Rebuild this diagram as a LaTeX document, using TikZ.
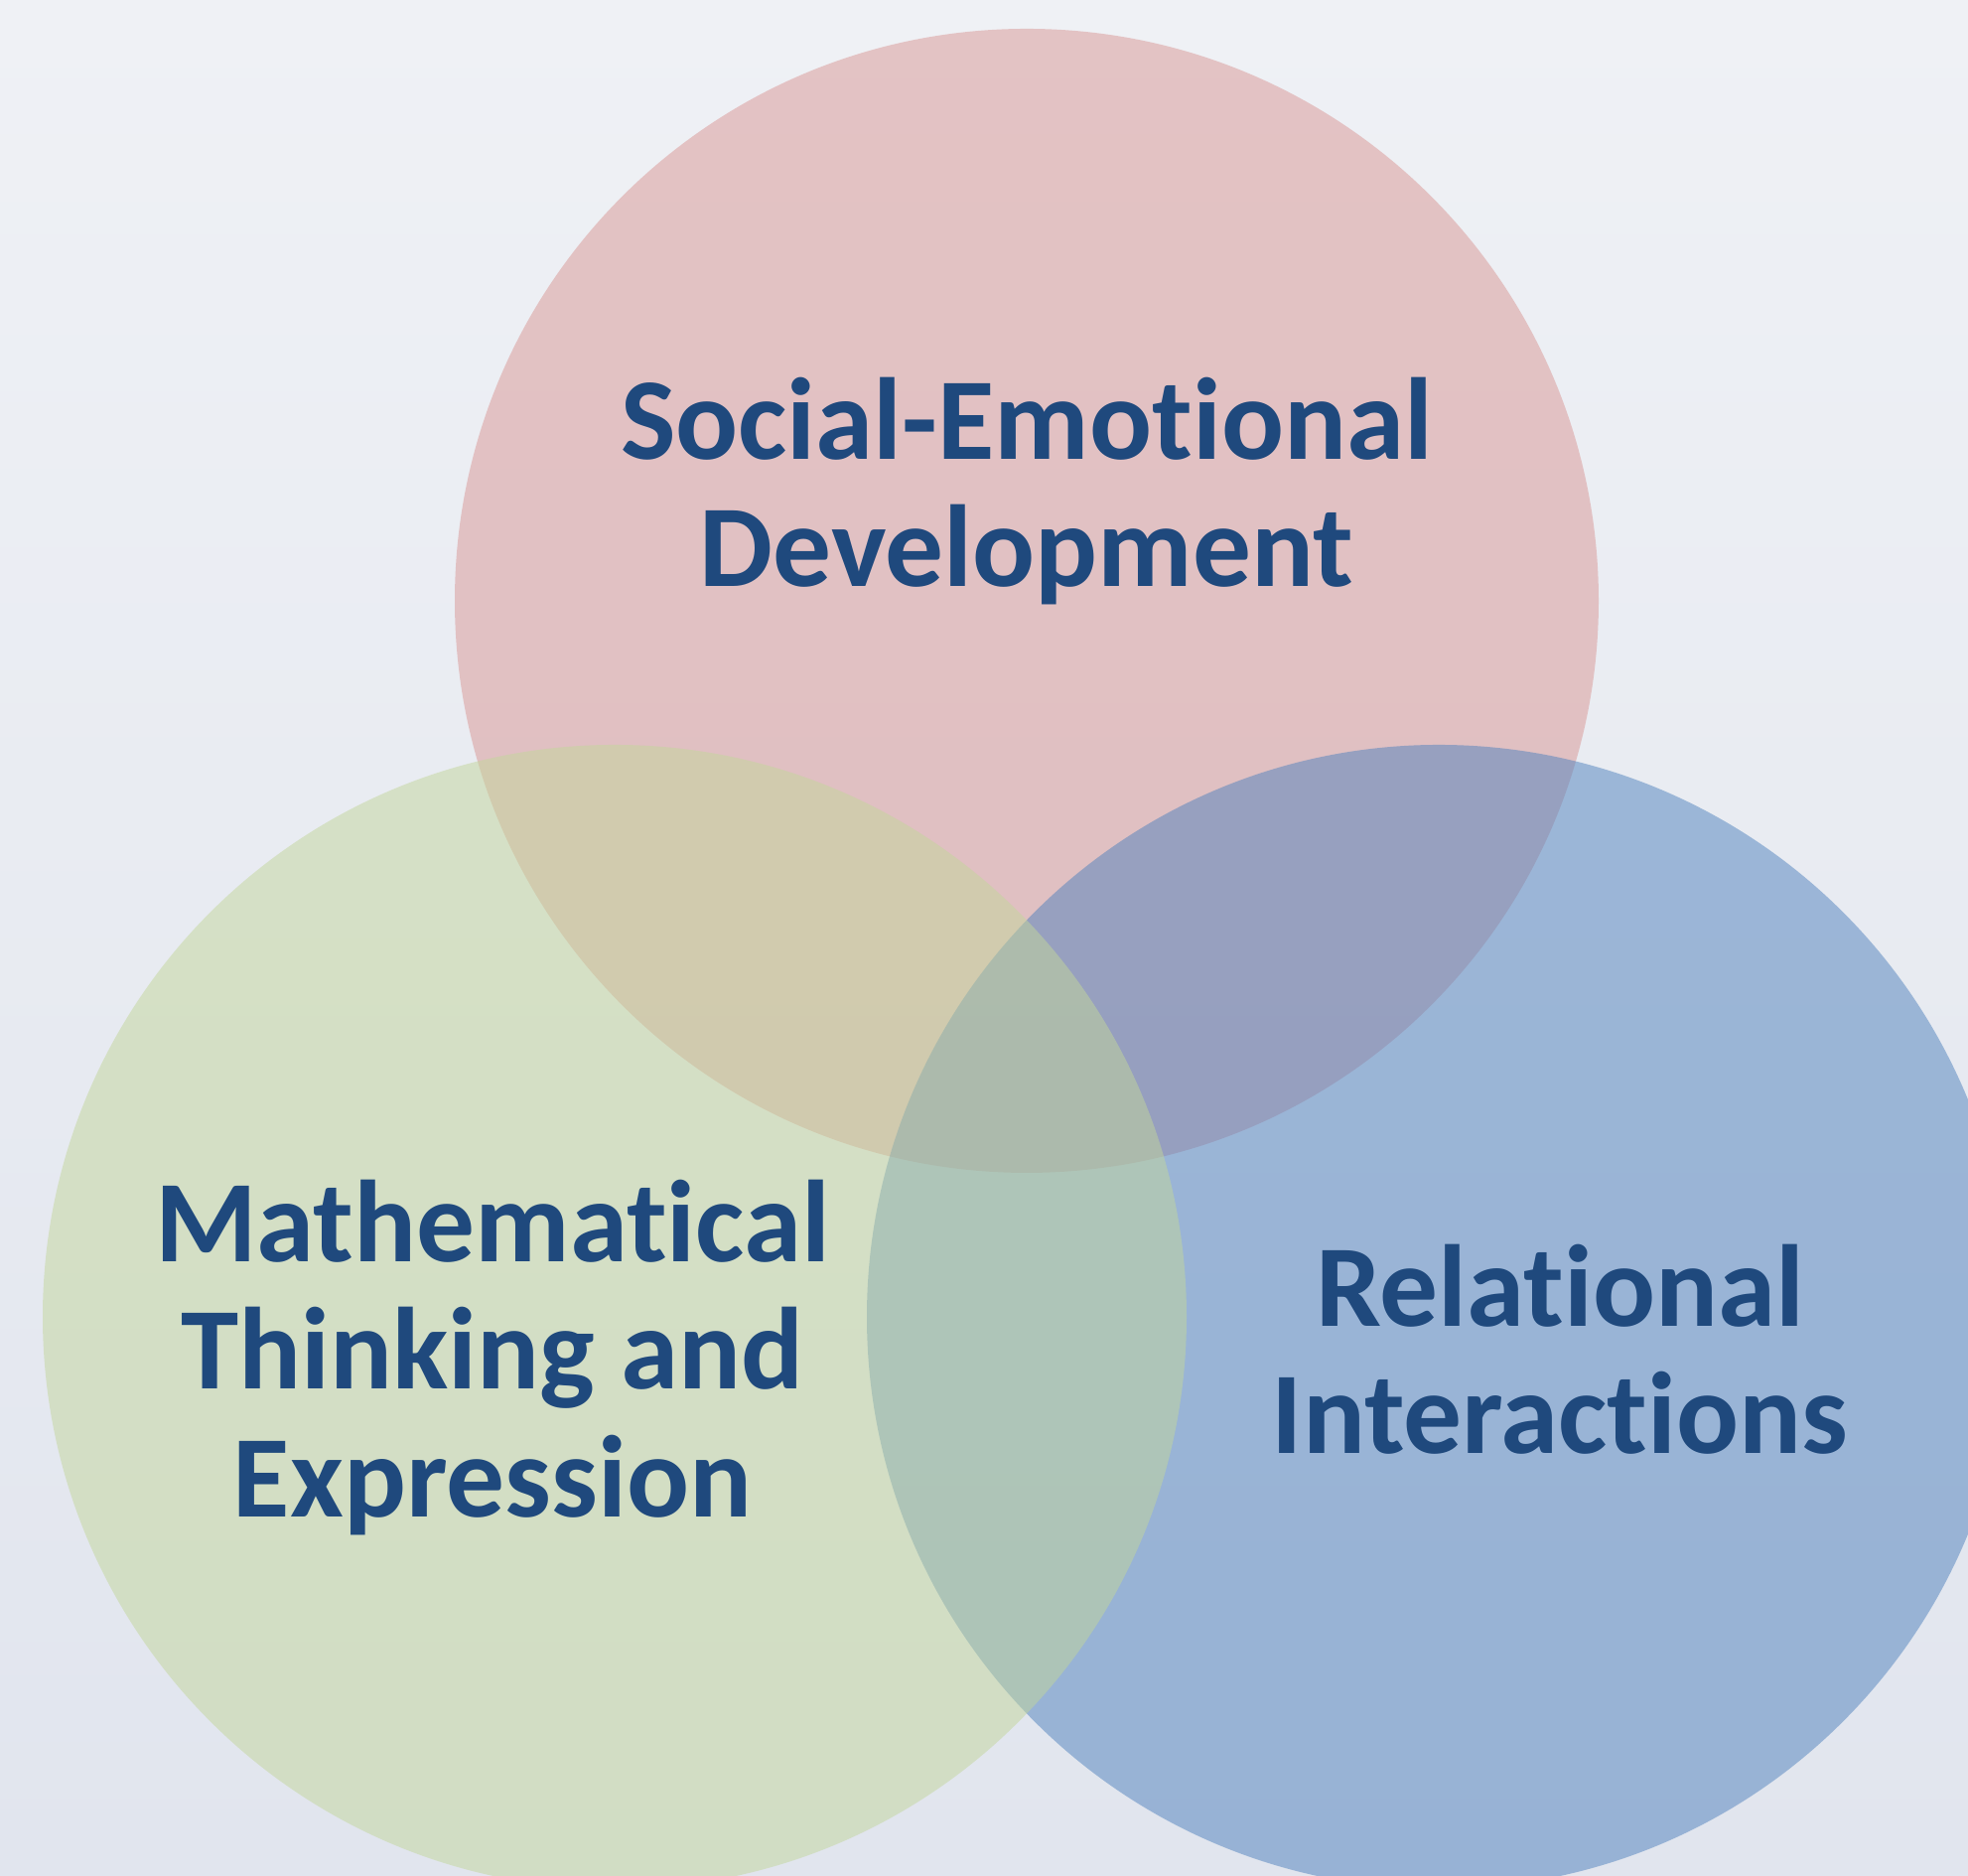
\documentclass[tikz,border=0pt]{standalone}
\usepackage{fontspec}
\setmainfont{Carlito}[Ligatures={NoCommon,NoDiscretionary}]
\usepackage{tikz}
\usetikzlibrary{positioning}
\definecolor{pagetop}{HTML}{EFF1F5}
\definecolor{pagemid}{HTML}{ECEFF7}
\definecolor{pagebot}{HTML}{E1E5EE}
\definecolor{rosefill}{HTML}{D99694}
\definecolor{bluefill}{HTML}{4F81BD}
\definecolor{olivefill}{HTML}{C3D69B}
\definecolor{labelblue}{HTML}{1F497D}

\begin{document}
\begin{tikzpicture}[
        every node/.style={inner sep=0pt},
        area/.style={circle, minimum size=11.52cm, fill opacity=0.5},
        areatext/.style={anchor=north, align=center, text=labelblue,
            font=\fontsize{33.4}{36.6}\selectfont\bfseries}
    ]
        % page with a soft vertical gradient
        \shade[top color=pagetop, middle color=pagemid, bottom color=pagebot]
            (0,0) rectangle (19.82,18.89);
        \useasboundingbox (0,0) rectangle (19.82,18.89);

        % the three overlapping areas
        \node[area, fill=rosefill] (social) at (10.34,12.84) {};
        \node[area, fill=bluefill] (relational) at (14.49,5.63) {};
        \node[area, fill=olivefill] (math) at (6.19,5.63) {};

        % labels
        \node[areatext] (sociallabel) at (10.34,15.10) {Social-Emotional\\Development};
        \node[areatext] (mathlabel) at (4.96,7.02) {Mathematical\\Thinking and\\Expression};
        \node[areatext] (relationallabel) at (15.71,6.37) {Relational\\Interactions};
    \end{tikzpicture}
\end{document}
